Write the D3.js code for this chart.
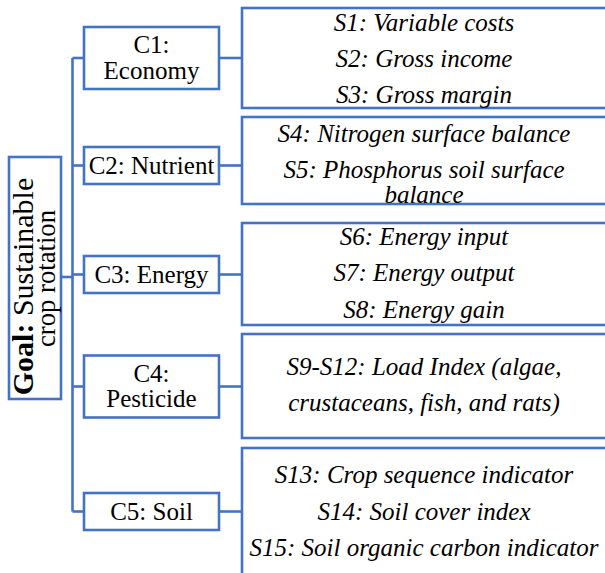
<!DOCTYPE html>
<html>
<head>
<meta charset="utf-8">
<script src="https://cdn.jsdelivr.net/npm/d3@7"></script>
<style>
  body { margin: 0; background: #fff; }
  svg { display: block; }
</style>
</head>
<body>
<svg id="tree" width="605" height="573"></svg>
<script>
// diagram content
const goalLabel = ["Goal:", " Sustainable"];
const goalLine2 = "crop rotation";
const criteria = [["C1:", "Economy"], ["C2: Nutrient"], ["C3: Energy"], ["C4:", "Pesticide"], ["C5: Soil"]];
// each indicator is a list of wrapped lines
const indicators = [
  [["S1: Variable costs"], ["S2: Gross income"], ["S3: Gross margin"]],
  [["S4: Nitrogen surface balance"], ["S5: Phosphorus soil surface", "balance"]],
  [["S6: Energy input"], ["S7: Energy output"], ["S8: Energy gain"]],
  [["S9-S12: Load Index (algae,"], ["crustaceans, fish, and rats)"]],
  [["S13: Crop sequence indicator"], ["S14: Soil cover index"], ["S15: Soil organic carbon indicator"]]
];

// layout
const blue = "#4472C4";
const sw = 2.6;
const font = "'Liberation Serif', 'Times New Roman', Tinos, serif";
const goalBox = { x0: 9, x1: 61, y0: 157, y1: 399, link: 277 };
const trunkX = 72.5;
const cx0 = 84, cx1 = 219;
const cCenter = [58, 165.5, 274.5, 386.5, 511.5];
const sx0 = 242, sx1 = 607, sTextX = 424;
const sBox = [[8, 108], [117, 204], [223, 325], [334, 438], [448, 576]];
const sFirst = [30.5, 141.7, 245, 375, 483.3];
const itemPitch = 36.3, wrapPitch = 25;
const cPitch = 25.6;

const svg = d3.select("#tree")
  .attr("font-family", font)
  .attr("fill", "#000");

const y = d3.scaleOrdinal().domain(criteria.map((d, i) => i)).range(cCenter);

// connectors
const lines = svg.append("g")
  .attr("stroke", blue)
  .attr("stroke-width", sw)
  .attr("fill", "none");

lines.append("line")
  .attr("x1", trunkX).attr("x2", trunkX)
  .attr("y1", y(0)).attr("y2", y(criteria.length - 1));

lines.append("line")
  .attr("x1", goalBox.x1).attr("x2", trunkX)
  .attr("y1", goalBox.link).attr("y2", goalBox.link);

lines.selectAll(".branch")
  .data(criteria)
  .join("line")
  .attr("class", "branch")
  .attr("x1", trunkX).attr("x2", cx0)
  .attr("y1", (d, i) => y(i)).attr("y2", (d, i) => y(i));

lines.selectAll(".link")
  .data(criteria)
  .join("line")
  .attr("class", "link")
  .attr("x1", cx1).attr("x2", sx0)
  .attr("y1", (d, i) => y(i)).attr("y2", (d, i) => y(i));

// goal box
svg.append("rect")
  .attr("x", goalBox.x0).attr("y", goalBox.y0)
  .attr("width", goalBox.x1 - goalBox.x0).attr("height", goalBox.y1 - goalBox.y0)
  .attr("fill", "#fff").attr("stroke", blue).attr("stroke-width", sw);

const g1 = svg.append("text")
  .attr("transform", "translate(33,286.5) rotate(-90)")
  .attr("text-anchor", "middle")
  .attr("font-size", 30);
g1.append("tspan").attr("font-weight", "bold").text(goalLabel[0]);
g1.append("tspan").text(goalLabel[1]);

svg.append("text")
  .attr("transform", "translate(55,278.5) rotate(-90)")
  .attr("text-anchor", "middle")
  .attr("font-size", 26.7)
  .text(goalLine2);

// criteria boxes
const cNodes = svg.selectAll(".crit")
  .data(criteria)
  .join("g")
  .attr("class", "crit");

cNodes.append("rect")
  .attr("x", cx0)
  .attr("width", cx1 - cx0)
  .attr("y", (d, i) => y(i) - (d.length > 1 ? 31 : 18.5))
  .attr("height", d => d.length > 1 ? 62 : 37)
  .attr("fill", "#fff").attr("stroke", blue).attr("stroke-width", sw);

cNodes.each(function(d, i) {
  const mid = y(i) + 8;
  d3.select(this).selectAll("text")
    .data(d)
    .join("text")
    .attr("x", (cx0 + cx1) / 2)
    .attr("y", (t, j) => mid + (j - (d.length - 1) / 2) * cPitch)
    .attr("text-anchor", "middle")
    .attr("font-size", 25)
    .text(t => t);
});

// indicator boxes
const sNodes = svg.selectAll(".ind")
  .data(indicators)
  .join("g")
  .attr("class", "ind");

sNodes.append("rect")
  .attr("x", sx0)
  .attr("width", sx1 - sx0)
  .attr("y", (d, i) => sBox[i][0])
  .attr("height", (d, i) => sBox[i][1] - sBox[i][0])
  .attr("fill", "#fff").attr("stroke", blue).attr("stroke-width", sw);

sNodes.each(function(d, i) {
  const rows = [];
  let yy = sFirst[i];
  d.forEach((item, k) => {
    if (k > 0) yy += itemPitch;
    item.forEach((t, j) => {
      if (j > 0) yy += wrapPitch;
      rows.push({ t, y: yy });
    });
  });
  d3.select(this).selectAll("text")
    .data(rows)
    .join("text")
    .attr("x", sTextX)
    .attr("y", r => r.y)
    .attr("text-anchor", "middle")
    .attr("font-size", 25)
    .attr("font-style", "italic")
    .text(r => r.t);
});
</script>
</body>
</html>
